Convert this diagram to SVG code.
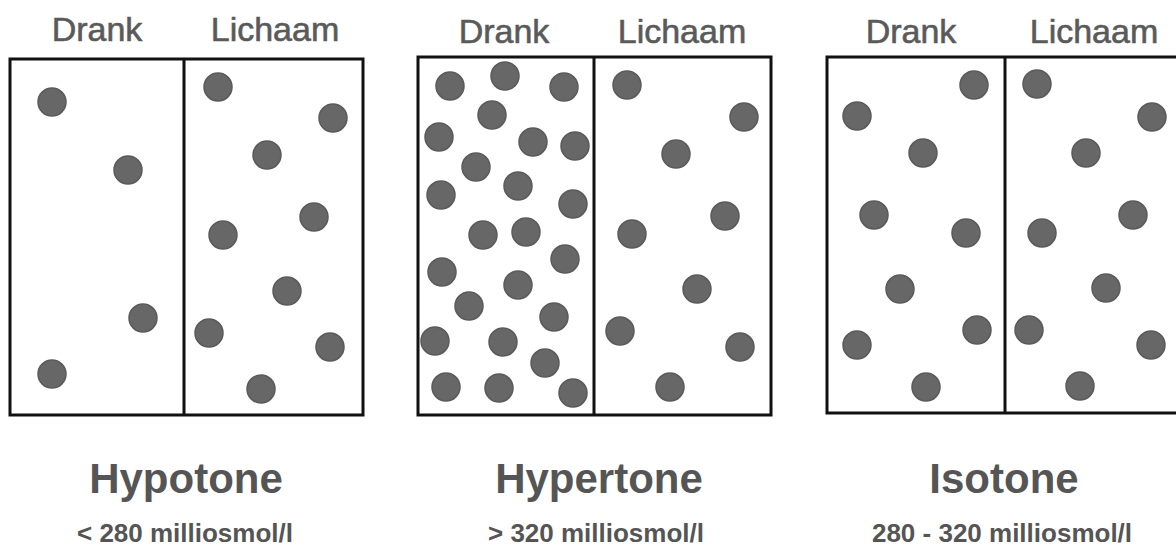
<svg xmlns="http://www.w3.org/2000/svg" width="1176" height="548" viewBox="0 0 1176 548">
<style>
.bg{fill:#ffffff}
.box{fill:#ffffff;stroke:#111111;stroke-width:3}
.div{stroke:#111111;stroke-width:3}
.dot{fill:#676767;stroke:#5a5a5a;stroke-width:1.5}
.hdr{font-family:"Liberation Sans",Arial,sans-serif;font-size:34px;fill:#5a5a5a;stroke:#5a5a5a;stroke-width:0.6;text-anchor:middle}
.title{font-family:"Liberation Sans",Arial,sans-serif;font-size:42px;font-weight:bold;fill:#555555;text-anchor:middle}
.sub{font-family:"Liberation Sans",Arial,sans-serif;font-size:26px;font-weight:bold;fill:#555555;text-anchor:middle}
</style>
<rect class="bg" x="0" y="0" width="1176" height="548"/>

<g id="hypotone">
  <text class="hdr" x="97" y="41">Drank</text>
  <text class="hdr" x="275" y="41">Lichaam</text>
  <rect class="box" x="10" y="59" width="353" height="356"/>
  <line class="div" x1="184" y1="59" x2="184" y2="415"/>
  <g id="hypotone-drank">
    <circle class="dot" cx="52" cy="102" r="14"/>
    <circle class="dot" cx="128" cy="170" r="14"/>
    <circle class="dot" cx="143" cy="318" r="14"/>
    <circle class="dot" cx="52" cy="374" r="14"/>
  </g>
  <g id="hypotone-lichaam">
    <circle class="dot" cx="218" cy="87" r="14"/>
    <circle class="dot" cx="333" cy="118" r="14"/>
    <circle class="dot" cx="267" cy="155" r="14"/>
    <circle class="dot" cx="314" cy="217" r="14"/>
    <circle class="dot" cx="223" cy="235" r="14"/>
    <circle class="dot" cx="287" cy="291" r="14"/>
    <circle class="dot" cx="209" cy="333" r="14"/>
    <circle class="dot" cx="330" cy="347" r="14"/>
    <circle class="dot" cx="261" cy="389" r="14"/>
  </g>
  <text class="title" x="186" y="493">Hypotone</text>
  <text class="sub" x="185" y="542">&lt; 280 milliosmol/l</text>
</g>

<g id="hypertone">
  <text class="hdr" x="504" y="43">Drank</text>
  <text class="hdr" x="682" y="43">Lichaam</text>
  <rect class="box" x="418" y="57" width="353" height="358"/>
  <line class="div" x1="594" y1="57" x2="594" y2="415"/>
  <g id="hypertone-drank">
    <circle class="dot" cx="450" cy="86" r="14"/>
    <circle class="dot" cx="505" cy="76" r="14"/>
    <circle class="dot" cx="564" cy="87" r="14"/>
    <circle class="dot" cx="492" cy="115" r="14"/>
    <circle class="dot" cx="439" cy="137" r="14"/>
    <circle class="dot" cx="533" cy="142" r="14"/>
    <circle class="dot" cx="575" cy="146" r="14"/>
    <circle class="dot" cx="476" cy="167" r="14"/>
    <circle class="dot" cx="518" cy="186" r="14"/>
    <circle class="dot" cx="441" cy="195" r="14"/>
    <circle class="dot" cx="573" cy="204" r="14"/>
    <circle class="dot" cx="483" cy="235" r="14"/>
    <circle class="dot" cx="526" cy="232" r="14"/>
    <circle class="dot" cx="565" cy="259" r="14"/>
    <circle class="dot" cx="442" cy="272" r="14"/>
    <circle class="dot" cx="518" cy="285" r="14"/>
    <circle class="dot" cx="469" cy="306" r="14"/>
    <circle class="dot" cx="554" cy="317" r="14"/>
    <circle class="dot" cx="435" cy="341" r="14"/>
    <circle class="dot" cx="503" cy="342" r="14"/>
    <circle class="dot" cx="545" cy="363" r="14"/>
    <circle class="dot" cx="446" cy="387" r="14"/>
    <circle class="dot" cx="499" cy="388" r="14"/>
    <circle class="dot" cx="573" cy="393" r="14"/>
  </g>
  <g id="hypertone-lichaam">
    <circle class="dot" cx="627" cy="85" r="14"/>
    <circle class="dot" cx="744" cy="117" r="14"/>
    <circle class="dot" cx="676" cy="154" r="14"/>
    <circle class="dot" cx="725" cy="216" r="14"/>
    <circle class="dot" cx="632" cy="234" r="14"/>
    <circle class="dot" cx="697" cy="289" r="14"/>
    <circle class="dot" cx="620" cy="331" r="14"/>
    <circle class="dot" cx="740" cy="347" r="14"/>
    <circle class="dot" cx="670" cy="387" r="14"/>
  </g>
  <text class="title" x="599" y="493">Hypertone</text>
  <text class="sub" x="596" y="542">&gt; 320 milliosmol/l</text>
</g>

<g id="isotone">
  <text class="hdr" x="911" y="43">Drank</text>
  <text class="hdr" x="1094" y="43">Lichaam</text>
  <rect class="box" x="827" y="57" width="356" height="356"/>
  <line class="div" x1="1005" y1="57" x2="1005" y2="413"/>
  <g id="isotone-drank">
    <circle class="dot" cx="974" cy="85" r="14"/>
    <circle class="dot" cx="857" cy="116" r="14"/>
    <circle class="dot" cx="923" cy="153" r="14"/>
    <circle class="dot" cx="874" cy="215" r="14"/>
    <circle class="dot" cx="966" cy="233" r="14"/>
    <circle class="dot" cx="900" cy="289" r="14"/>
    <circle class="dot" cx="977" cy="330" r="14"/>
    <circle class="dot" cx="857" cy="345" r="14"/>
    <circle class="dot" cx="926" cy="387" r="14"/>
  </g>
  <g id="isotone-lichaam">
    <circle class="dot" cx="1037" cy="84" r="14"/>
    <circle class="dot" cx="1152" cy="117" r="14"/>
    <circle class="dot" cx="1086" cy="153" r="14"/>
    <circle class="dot" cx="1133" cy="215" r="14"/>
    <circle class="dot" cx="1042" cy="233" r="14"/>
    <circle class="dot" cx="1106" cy="288" r="14"/>
    <circle class="dot" cx="1029" cy="330" r="14"/>
    <circle class="dot" cx="1151" cy="345" r="14"/>
    <circle class="dot" cx="1080" cy="386" r="14"/>
  </g>
  <text class="title" x="1004" y="493">Isotone</text>
  <text class="sub" x="1002" y="542">280 - 320 milliosmol/l</text>
</g>
</svg>
